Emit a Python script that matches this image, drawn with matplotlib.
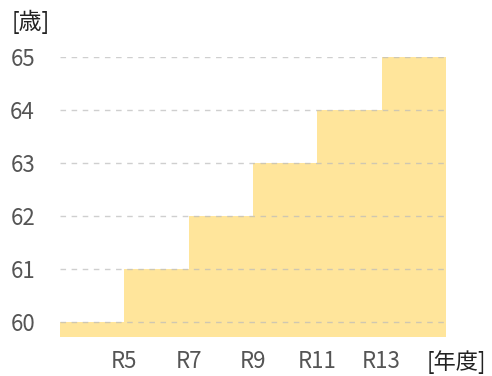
import matplotlib.pyplot as plt

plt.rcParams['font.family'] = ['Noto Sans CJK JP', 'DejaVu Sans']

# 年金支給開始年齢の引き上げスケジュール（令和年度ごと）
years = [3, 5, 7, 9, 11, 13, 15]
ages = [60, 61, 62, 63, 64, 65, 65]
tick_years = [5, 7, 9, 11, 13]
tick_labels = ['R5', 'R7', 'R9', 'R11', 'R13']
age_ticks = [60, 61, 62, 63, 64, 65]

base = 59.72
text_color = '#555555'

fig = plt.figure(figsize=(4.92, 3.76), dpi=100)
ax = fig.add_axes([60 / 492, 1 - 337 / 376, 386 / 492, 280 / 376])

ax.fill_between(years, ages, base, step='post', color='#FFE59B', linewidth=0, zorder=1)

ax.set_xlim(years[0], years[-1])
ax.set_ylim(base, 65.0)
ax.set_xticks(tick_years)
ax.set_xticklabels(tick_labels)
ax.set_yticks(age_ticks)

ax.yaxis.grid(True, color='#bbbbbb', linestyle=(0, (4, 4)), linewidth=1, alpha=0.7, zorder=2)
ax.set_axisbelow(False)

for s in ax.spines.values():
    s.set_visible(False)
ax.tick_params(length=0, labelsize=16, labelcolor=text_color)
ax.tick_params(axis='y', pad=18)
ax.tick_params(axis='x', pad=9)

fig.text(12 / 492, 1 - 22 / 376, '[歳]', fontsize=16.5, color='#222222', va='center', ha='left')
fig.text(456 / 492, 1 - 362 / 376, '[年度]', fontsize=16, color='#222222', va='center', ha='center')

fig.savefig('out.png', dpi=100)
